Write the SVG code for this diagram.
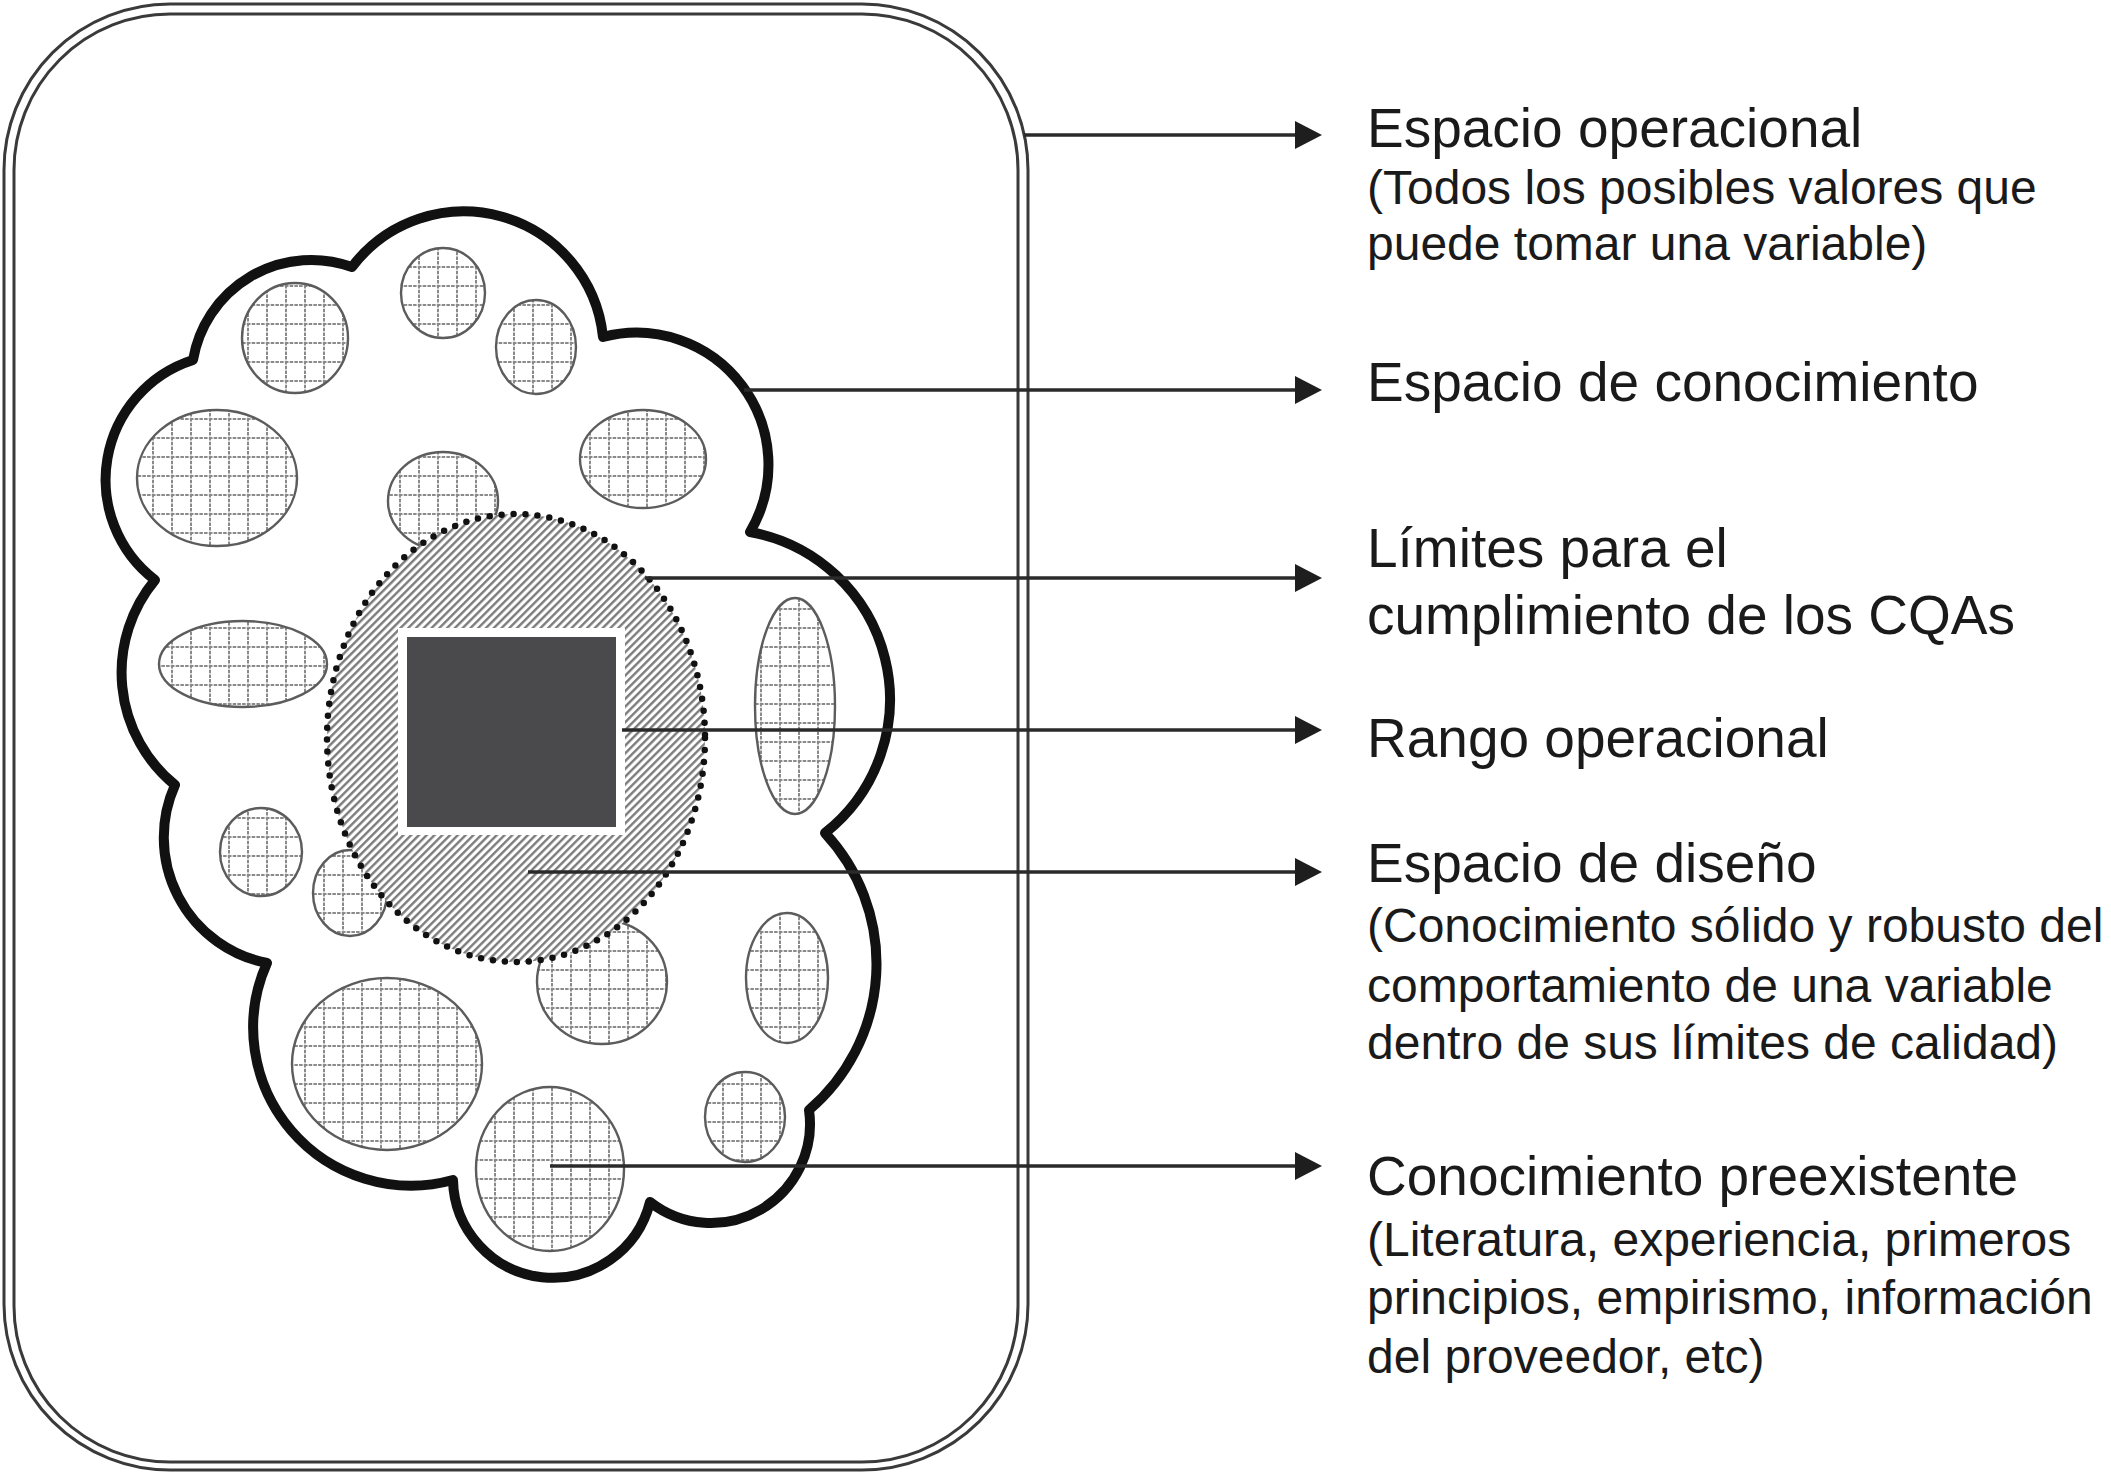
<svg xmlns="http://www.w3.org/2000/svg" width="2111" height="1477" viewBox="0 0 2111 1477">
<style>
.frame{fill:none;stroke:#3a3a3a;stroke-width:3}
.cloud{fill:#fff;stroke:#111;stroke-width:10;stroke-linejoin:round}
.blob{fill:url(#grid);stroke:#5c5c5c;stroke-width:2.4}
.conn{stroke:#2a2a2a;stroke-width:3.5;fill:none;marker-end:url(#arr)}
.h{font-family:"Liberation Sans",Arial,sans-serif;font-size:55px;fill:#1a1a1a}
.s{font-family:"Liberation Sans",Arial,sans-serif;font-size:48px;fill:#1a1a1a}
</style>
<defs>
<pattern id="grid" width="19" height="19" patternUnits="userSpaceOnUse">
<rect width="19" height="19" fill="#fff"/>
<path d="M0,1H19M1,0V19" stroke="#8a8a8a" stroke-width="2" stroke-dasharray="3.5 1.2"/>
</pattern>
<pattern id="hatch" width="5.5" height="5.5" patternUnits="userSpaceOnUse" patternTransform="rotate(45)">
<rect width="5.5" height="5.5" fill="#fff"/>
<line x1="1.25" y1="0" x2="1.25" y2="5.5" stroke="#767676" stroke-width="2.3"/>
</pattern>
<marker id="arr" markerUnits="userSpaceOnUse" markerWidth="30" markerHeight="30" viewBox="0 0 30 30" refX="1" refY="15" orient="auto">
<path d="M0,1 L27,15 L0,29 Z" fill="#1e1e1e"/>
</marker>
</defs>
<rect width="2111" height="1477" fill="#fff"/>

<g id="espacio-operacional">
<rect class="frame" x="4" y="4" width="1024" height="1466" rx="166" ry="166"/>
<rect class="frame" x="14" y="14" width="1004" height="1448" rx="156" ry="156"/>
</g>

<g id="espacio-conocimiento">
<path class="cloud" d="M352,267 A140,140 0 0 1 603,337 A132,132 0 0 1 750,532 A170,170 0 0 1 825,833 A192,192 0 0 1 809,1110 A99,99 0 0 1 650,1202 A100,100 0 0 1 453,1180 A158,158 0 0 1 267,963 A128,128 0 0 1 175,785 A145,145 0 0 1 155,580 A126,126 0 0 1 193,360 A120,120 0 0 1 352,267 Z"/>
</g>

<g id="conocimiento-preexistente">
<ellipse class="blob" cx="217" cy="478" rx="80" ry="68"/>
<ellipse class="blob" cx="295" cy="338" rx="53" ry="55"/>
<ellipse class="blob" cx="443" cy="293" rx="42" ry="45"/>
<ellipse class="blob" cx="536" cy="347" rx="40" ry="47"/>
<ellipse class="blob" cx="643" cy="459" rx="63" ry="49"/>
<ellipse class="blob" cx="443" cy="501" rx="55" ry="49"/>
<ellipse class="blob" cx="243" cy="664" rx="84" ry="43"/>
<ellipse class="blob" cx="795" cy="706" rx="40" ry="108"/>
<ellipse class="blob" cx="787" cy="978" rx="41" ry="65"/>
<ellipse class="blob" cx="745" cy="1117" rx="40" ry="45"/>
<ellipse class="blob" cx="387" cy="1064" rx="95" ry="86"/>
<ellipse class="blob" cx="550" cy="1169" rx="74" ry="82"/>
<ellipse class="blob" cx="602" cy="982" rx="65" ry="62"/>
<ellipse class="blob" cx="261" cy="852" rx="41" ry="44"/>
<ellipse class="blob" cx="350" cy="893" rx="37" ry="43"/>
</g>

<g id="espacio-diseno">
<ellipse cx="516" cy="738" rx="189" ry="224" fill="url(#hatch)"/>
<ellipse cx="516" cy="738" rx="189" ry="224" fill="none" stroke="#111" stroke-width="6.5" stroke-linecap="round" stroke-dasharray="0 12"/>
</g>

<g id="rango-operacional">
<rect x="398" y="628" width="227" height="207" fill="#fff"/>
<rect x="407" y="637" width="209" height="190" fill="#4a4a4c"/>
</g>

<g id="connectors">
<line class="conn" x1="1024" y1="135" x2="1296" y2="135"/>
<line class="conn" x1="744" y1="390" x2="1296" y2="390"/>
<line class="conn" x1="645" y1="578" x2="1296" y2="578"/>
<line class="conn" x1="622" y1="730" x2="1296" y2="730"/>
<line class="conn" x1="528" y1="872" x2="1296" y2="872"/>
<line class="conn" x1="550" y1="1166" x2="1296" y2="1166"/>
</g>

<g id="label-operacional">
<text class="h" x="1367" y="147">Espacio operacional</text>
<text class="s" x="1367" y="204">(Todos los posibles valores que</text>
<text class="s" x="1367" y="260">puede tomar una variable)</text>
</g>
<g id="label-conocimiento">
<text class="h" x="1367" y="401">Espacio de conocimiento</text>
</g>
<g id="label-limites">
<text class="h" x="1367" y="567">Límites para el</text>
<text class="h" x="1367" y="634">cumplimiento de los CQAs</text>
</g>
<g id="label-rango">
<text class="h" x="1367" y="757">Rango operacional</text>
</g>
<g id="label-diseno">
<text class="h" x="1367" y="882">Espacio de diseño</text>
<text class="s" x="1367" y="942">(Conocimiento sólido y robusto del</text>
<text class="s" x="1367" y="1002">comportamiento de una variable</text>
<text class="s" x="1367" y="1059">dentro de sus límites de calidad)</text>
</g>
<g id="label-preexistente">
<text class="h" x="1367" y="1195">Conocimiento preexistente</text>
<text class="s" x="1367" y="1256">(Literatura, experiencia, primeros</text>
<text class="s" x="1367" y="1314">principios, empirismo, información</text>
<text class="s" x="1367" y="1373">del proveedor, etc)</text>
</g>
</svg>
